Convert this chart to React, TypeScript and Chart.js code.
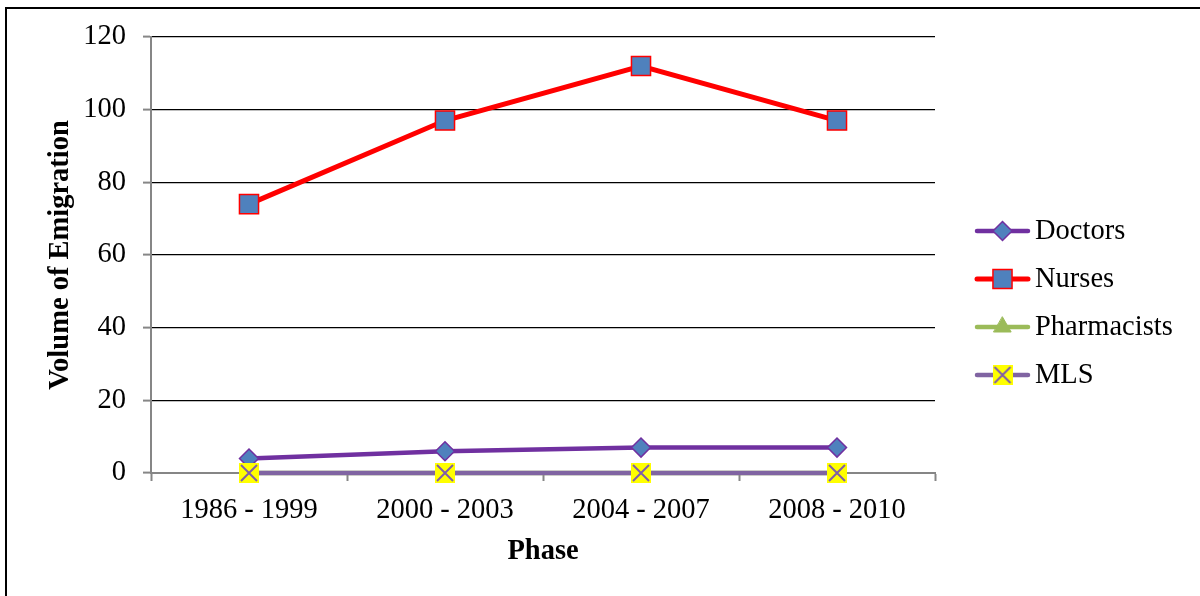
import React, { useEffect, useRef } from 'react';
import { Chart, registerables } from 'chart.js';
import { drawPoint } from 'chart.js/helpers';

Chart.register(...registerables);

const phases = ['1986 - 1999', '2000 - 2003', '2004 - 2007', '2008 - 2010'];
const doctors = [4, 6, 7, 7];
const nurses = [74, 97, 112, 97];
const pharmacists = [0, 0, 0, 0];
const mls = [0, 0, 0, 0];
const yTickValues = [0, 20, 40, 60, 80, 100, 120];
const seriesNames = ['Doctors', 'Nurses', 'Pharmacists', 'MLS'];

const FONT = '"Liberation Serif", "Times New Roman", serif';
const GRAY = '#868686';

function makeMlsMarker(): HTMLCanvasElement {
  const c = document.createElement('canvas');
  c.width = 20;
  c.height = 20;
  const g = c.getContext('2d')!;
  g.fillStyle = '#FFFF00';
  g.fillRect(0, 0, 20, 20);
  g.strokeStyle = '#7F5FA8';
  g.lineWidth = 2;
  g.beginPath();
  g.moveTo(2, 2);
  g.lineTo(18, 18);
  g.moveTo(18, 2);
  g.lineTo(2, 18);
  g.stroke();
  return c;
}

const framePlugin = {
  id: 'frame',
  beforeDraw(chart: any) {
    const ctx = chart.ctx;
    ctx.save();
    ctx.fillStyle = '#ffffff';
    ctx.fillRect(0, 0, chart.width, chart.height);
    ctx.strokeStyle = '#000000';
    ctx.lineWidth = 2;
    ctx.beginPath();
    ctx.moveTo(6, chart.height);
    ctx.lineTo(6, 8);
    ctx.lineTo(chart.width, 8);
    ctx.stroke();
    ctx.restore();
  },
};

const legendPlugin = {
  id: 'sideLegend',
  afterDraw(chart: any) {
    const ctx = chart.ctx;
    const datasets = chart.data.datasets;
    const startY = 231;
    const gap = 48;
    datasets.forEach((ds: any, i: number) => {
      const y = startY + i * gap;
      ctx.save();
      ctx.strokeStyle = ds.borderColor;
      ctx.lineWidth = ds.borderWidth;
      ctx.lineCap = 'round';
      ctx.beginPath();
      ctx.moveTo(977, y);
      ctx.lineTo(1028, y);
      ctx.stroke();
      ctx.fillStyle = ds.pointBackgroundColor;
      ctx.strokeStyle = ds.pointBorderColor;
      ctx.lineWidth = ds.pointBorderWidth;
      drawPoint(ctx, { pointStyle: ds.pointStyle, radius: ds.pointRadius, borderWidth: ds.pointBorderWidth, rotation: 0 } as any, 1002.5, y);
      ctx.fillStyle = '#000000';
      ctx.font = `28.5px ${FONT}`;
      ctx.textAlign = 'left';
      ctx.textBaseline = 'middle';
      ctx.fillText(ds.label, 1035, y + 1);
      ctx.restore();
    });
  },
};

export default function App() {
  const ref = useRef<HTMLCanvasElement | null>(null);

  useEffect(() => {
    if (!ref.current) return;
    const mlsMarker = makeMlsMarker();
    const chart = new Chart(ref.current, {
      type: 'line',
      data: {
        labels: phases,
        datasets: [
          {
            label: seriesNames[0],
            data: doctors,
            borderColor: '#7030A0',
            borderWidth: 4.5,
            pointStyle: 'rectRot',
            pointRadius: 9.5,
            pointHoverRadius: 9.5,
            pointBackgroundColor: '#4F81BD',
            pointBorderColor: '#7030A0',
            pointBorderWidth: 1.5,
            borderCapStyle: 'round',
            clip: false,
            order: 3,
          },
          {
            label: seriesNames[1],
            data: nurses,
            borderColor: '#FF0000',
            borderWidth: 5,
            pointStyle: 'rect',
            pointRadius: 13.5,
            pointHoverRadius: 13.5,
            pointBackgroundColor: '#4F81BD',
            pointBorderColor: '#FF0000',
            pointBorderWidth: 1.5,
            borderCapStyle: 'round',
            clip: false,
            order: 2,
          },
          {
            label: seriesNames[2],
            data: pharmacists,
            borderColor: '#9BBB59',
            borderWidth: 4.5,
            pointStyle: 'triangle',
            pointRadius: 10,
            pointHoverRadius: 10,
            pointBackgroundColor: '#9BBB59',
            pointBorderColor: '#9BBB59',
            pointBorderWidth: 1,
            borderCapStyle: 'round',
            clip: false,
            order: 1,
          },
          {
            label: seriesNames[3],
            data: mls,
            borderColor: '#8064A2',
            borderWidth: 4.5,
            pointStyle: mlsMarker as any,
            pointRadius: 10,
            pointHoverRadius: 10,
            pointBackgroundColor: '#FFFF00',
            pointBorderColor: '#7F5FA8',
            pointBorderWidth: 0,
            borderCapStyle: 'round',
            clip: false,
            order: 0,
          },
        ],
      },
      options: {
        animation: false,
        responsive: false,
        devicePixelRatio: 1,
        events: [],
        layout: { padding: { left: 0, top: 37, right: 265, bottom: 0 } },
        plugins: {
          legend: { display: false },
          tooltip: { enabled: false },
        },
        scales: {
          x: {
            type: 'category',
            offset: true,
            afterFit: (scale: any) => {
              scale.height = 123;
            },
            grid: {
              display: true,
              drawOnChartArea: false,
              drawTicks: true,
              tickLength: 8,
              tickColor: GRAY,
              tickWidth: 2,
              offset: true,
            },
            border: { display: true, color: GRAY, width: 2 },
            ticks: {
              color: '#000000',
              font: { family: FONT, size: 28.5 },
              padding: 12,
              maxRotation: 0,
            },
            title: {
              display: true,
              text: 'Phase',
              color: '#000000',
              font: { family: FONT, size: 28.5, weight: 'bold' },
              padding: { top: 0, bottom: 27 },
            },
          },
          y: {
            type: 'linear',
            min: 0,
            max: 120,
            afterFit: (scale: any) => {
              scale.width = 151;
            },
            afterBuildTicks: (scale: any) => {
              scale.ticks = yTickValues.map((v) => ({ value: v }));
            },
            grid: {
              color: (c: any) => (c.tick && c.tick.value === 0 ? GRAY : '#000000'),
              lineWidth: 1.2,
              drawTicks: true,
              tickLength: 8,
              tickColor: GRAY,
              tickWidth: 2,
            },
            border: { display: true, color: GRAY, width: 2 },
            ticks: {
              color: '#000000',
              font: { family: FONT, size: 28.5 },
              padding: 17,
            },
            title: {
              display: true,
              text: 'Volume of Emigration',
              color: '#000000',
              font: { family: FONT, size: 28.5, weight: 'bold' },
              padding: { top: 44, bottom: 0 },
            },
          },
        },
      },
      plugins: [framePlugin, legendPlugin],
    } as any);
    return () => chart.destroy();
  }, []);

  return (
    <div style={{ position: 'absolute', left: 0, top: 0, width: 1200, height: 596 }}>
      <canvas ref={ref} width={1200} height={596} style={{ display: 'block' }} />
    </div>
  );
}
